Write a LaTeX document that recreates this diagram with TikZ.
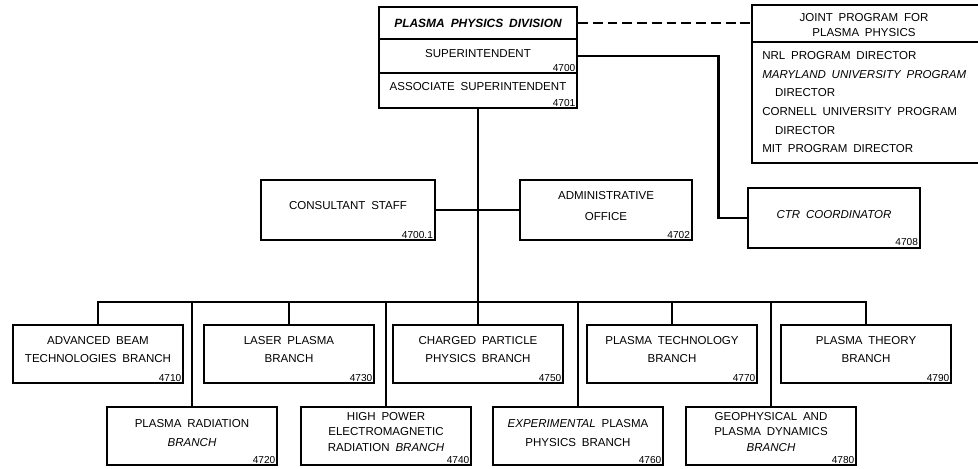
\documentclass[tikz,border=0pt]{standalone}
\usepackage{fontspec}
\setmainfont{Liberation Sans}[WordSpace=1.8]
\usepackage{tikz}
\usetikzlibrary{positioning}
\newcommand\chartfont{\fontsize{8.2}{13}\selectfont}
\newcommand\tightfont{\fontsize{8.2}{11}\selectfont}
\newcommand\numfont{\fontsize{7.2}{8}\selectfont}

\begin{document}
\begin{tikzpicture}[
    x=0.025cm, y=-0.025cm,
    unit/.style={rectangle, draw, line width=1.4pt, align=center, inner sep=0pt, minimum width=4.25cm, minimum height=1.45cm, text depth=0.22cm, font=\chartfont},
    unitno/.style={label={[anchor=south east, inner sep=1.7pt, font=\numfont]south east:#1}},
    link/.style={line width=1.9pt},
    liaison/.style={line width=1.8pt, dash pattern=on 7pt off 3.5pt}
]
\useasboundingbox (0,0) rectangle (978,468);

% front office
\node[unit, minimum width=4.95cm, minimum height=0.8cm, text depth=0pt, font=\fontsize{8.5}{10}\selectfont\bfseries\itshape] (div) at (478,23) {PLASMA PHYSICS DIVISION};
\node[unit, minimum width=4.95cm, minimum height=0.85cm, text depth=0.15cm, unitno=4700, below=-1.4pt of div] (sup) {SUPERINTENDENT};
\node[unit, minimum width=4.95cm, minimum height=0.875cm, unitno=4701, below=-1.4pt of sup] (assoc) {ASSOCIATE SUPERINTENDENT};

% joint program
\node[font=\fontsize{8.2}{10}\selectfont, align=center, inner sep=0pt] (joint) at (864,25) {JOINT PROGRAM FOR\\PLASMA PHYSICS};
\node[font=\fontsize{8.2}{13.3}\selectfont, align=left, inner sep=0pt, anchor=north west] (jointbody) at (762,51) {NRL PROGRAM DIRECTOR\\\textit{MARYLAND UNIVERSITY PROGRAM}\\\hspace*{0.32cm}DIRECTOR\\CORNELL UNIVERSITY PROGRAM\\\hspace*{0.32cm}DIRECTOR\\MIT PROGRAM DIRECTOR};
\draw[line width=1.4pt] (978,5) -- (752,5) -- (752,163) -- (978,163);
\draw[line width=1.4pt] (752,42) -- (978,42);
\coordinate (jointwest) at (752,23);

% staff level
\node[unit, minimum width=4.33cm, minimum height=1.52cm, unitno=4700.1] (staff) at (348,210) {CONSULTANT STAFF};
\node[unit, minimum width=4.28cm, minimum height=1.52cm, font=\fontsize{8.2}{15}\selectfont, unitno=4702] (admin) at (606,210) {ADMINISTRATIVE\\OFFICE};
\node[unit, minimum width=4.28cm, minimum height=1.48cm, text depth=0.17cm, font=\chartfont\itshape, unitno=4708] (ctr) at (834,218) {CTR COORDINATOR};

% branches
\node[unit, unitno=4710] (beam) at (98,354) {ADVANCED BEAM\\TECHNOLOGIES BRANCH};
\node[unit, unitno=4730] (laser) at (289,354) {LASER PLASMA\\BRANCH};
\node[unit, unitno=4750] (charged) at (478,354) {CHARGED PARTICLE\\PHYSICS BRANCH};
\node[unit, unitno=4770] (tech) at (672,354) {PLASMA TECHNOLOGY\\BRANCH};
\node[unit, unitno=4790] (theory) at (866,354) {PLASMA THEORY\\BRANCH};
\node[unit, font=\fontsize{8.2}{13.5}\selectfont, text depth=0.16cm, unitno=4720] (radiation) at (192,436) {PLASMA RADIATION\\\textit{BRANCH}};
\node[unit, font=\tightfont, unitno=4740] (hipower) at (386,436) {HIGH POWER\\ELECTROMAGNETIC\\RADIATION \textit{BRANCH}};
\node[unit, font=\fontsize{8.2}{13.5}\selectfont, text depth=0.16cm, unitno=4760] (expt) at (578,436) {\textit{EXPERIMENTAL} PLASMA\\PHYSICS BRANCH};
\node[unit, font=\tightfont, unitno=4780] (geo) at (771,436) {GEOPHYSICAL AND\\PLASMA DYNAMICS\\\textit{BRANCH}};
\coordinate (bus) at (478,302);

\draw[liaison] (div.east) -- (jointwest);
\draw[link] (sup.east) -| ([xshift=-0.72cm]ctr.west) -- (ctr.west);
\draw[link] (assoc.south) -- (charged.north);
\draw[link] (staff.east) -- (admin.west);
\draw[link] (beam.north) |- (bus) -| (theory.north);
\draw[link] (radiation.north) -- (radiation.north |- bus);
\draw[link] (laser.north) -- (laser.north |- bus);
\draw[link] (hipower.north) -- (hipower.north |- bus);
\draw[link] (expt.north) -- (expt.north |- bus);
\draw[link] (tech.north) -- (tech.north |- bus);
\draw[link] (geo.north) -- (geo.north |- bus);
\end{tikzpicture}
\end{document}
